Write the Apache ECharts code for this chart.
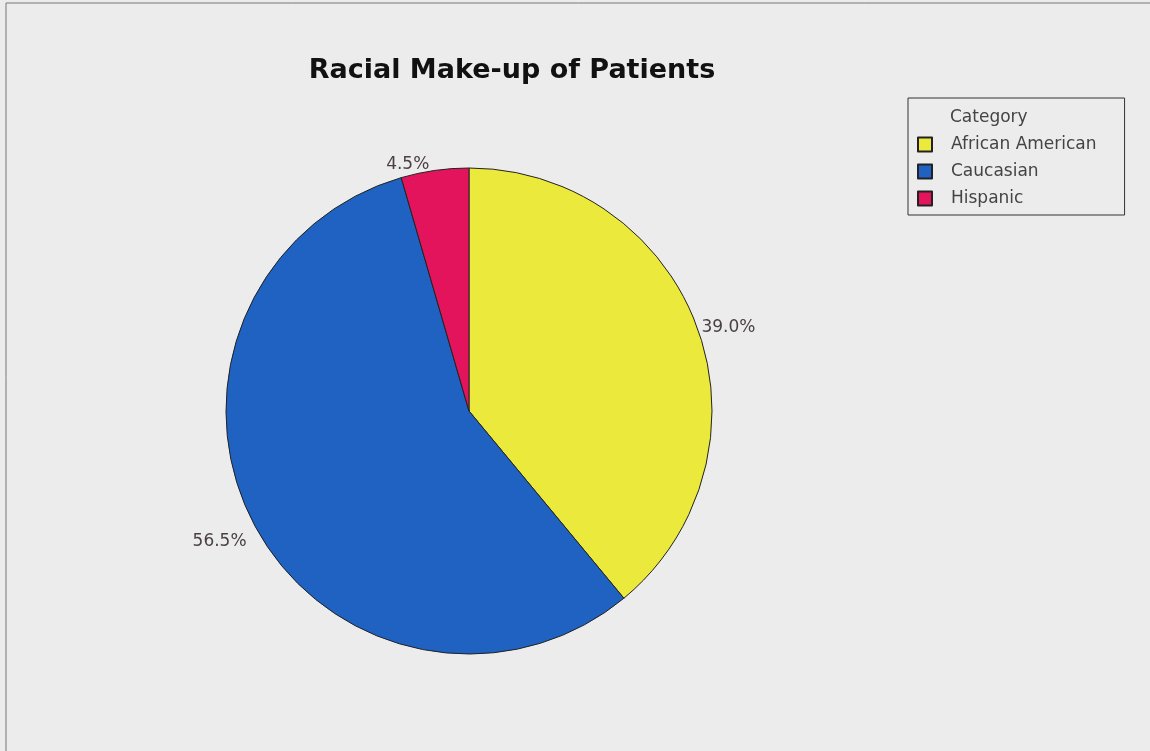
<!DOCTYPE html>
<html>
<head>
<meta charset="utf-8">
<script src="https://cdn.jsdelivr.net/npm/echarts@6/dist/echarts.min.js"></script>
<style>
  html, body { margin: 0; padding: 0; background: #ececec; }
  #chart { width: 1150px; height: 751px; }
</style>
</head>
<body>
<div id="chart"></div>
<script>
const categories = ['African American', 'Caucasian', 'Hispanic']
const percents = [39.0, 56.5, 4.5]
const colors = ['#ebea3c', '#1f62c2', '#e3145c']

const chart = echarts.init(document.getElementById('chart'))

chart.setOption({
  backgroundColor: '#ececec',
  animation: false,
  title: {
    text: 'Racial Make-up of Patients',
    left: 507,
    top: 52,
    textAlign: 'center',
    textStyle: {
      fontFamily: 'DejaVu Sans',
      fontSize: 27,
      fontWeight: 'bold',
      color: '#111'
    }
  },
  legend: {
    orient: 'vertical',
    left: 908,
    top: 98,
    padding: [38, 28, 8, 9],
    borderColor: '#333',
    borderWidth: 1,
    itemWidth: 14,
    itemHeight: 14,
    itemGap: 10,
    icon: 'rect',
    data: categories,
    textStyle: {
      fontFamily: 'DejaVu Sans',
      fontSize: 17,
      color: '#444',
      padding: [0, 0, 0, 14]
    }
  },
  graphic: [
    {
      type: 'rect',
      shape: { x: 6, y: 3, width: 1160, height: 760 },
      style: { fill: 'none', stroke: '#777', lineWidth: 1 },
      silent: true
    },
    {
      type: 'text',
      left: 950,
      top: 109,
      style: {
        text: 'Category',
        font: '17px "DejaVu Sans"',
        fill: '#444'
      }
    }
  ],
  series: [{
    type: 'pie',
    center: [469, 411],
    radius: 243,
    startAngle: 90,
    clockwise: true,
    label: {
      show: true,
      position: 'outside',
      formatter: (p) => p.value.toFixed(1) + '%',
      fontFamily: 'DejaVu Sans',
      fontSize: 17,
      color: '#4a3f45'
    },
    labelLine: { show: false, length: 3, length2: 0 },
    itemStyle: { borderColor: '#222', borderWidth: 1 },
    emphasis: { disabled: true },
    data: categories.map((c, i) => ({
      name: c,
      value: percents[i],
      itemStyle: { color: colors[i] },
      label: i === 1 ? { offset: [0, 15] } : (i === 2 ? { offset: [0, -3] } : { offset: [-4, 0] })
    }))
  }]
})
</script>
</body>
</html>
